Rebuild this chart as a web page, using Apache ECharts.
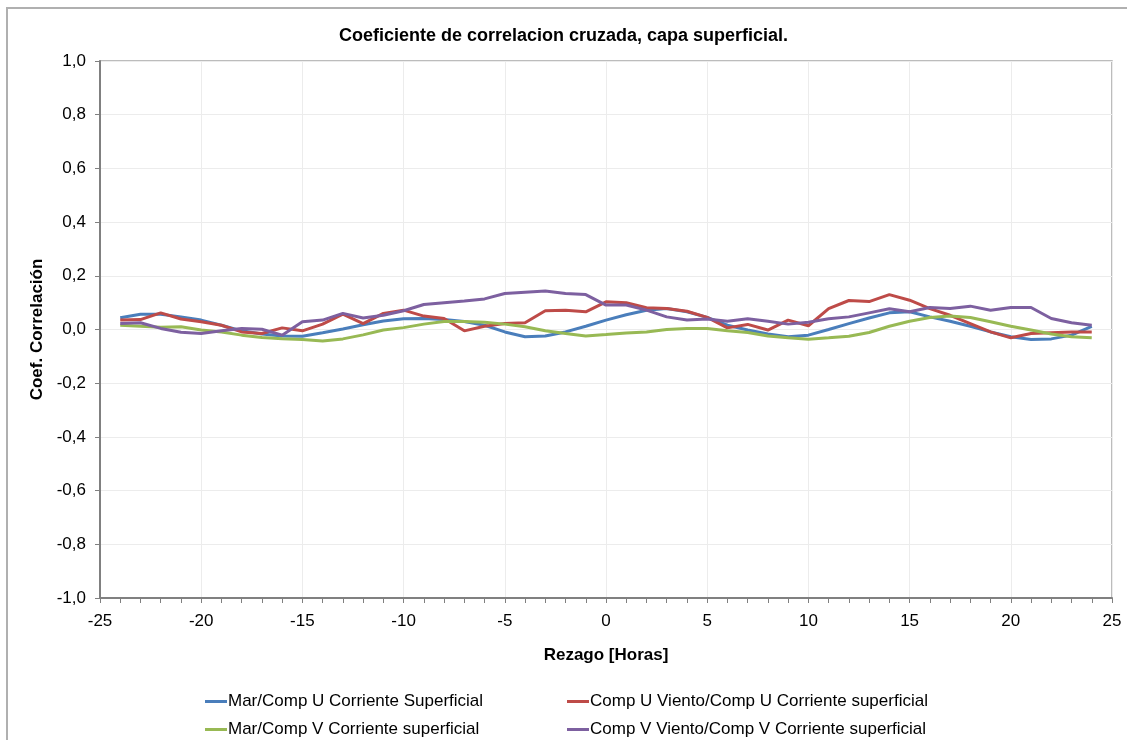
<!DOCTYPE html>
<html>
<head>
<meta charset="utf-8">
<script src="https://cdn.jsdelivr.net/npm/echarts@6/dist/echarts.min.js"></script>
<style>html,body{margin:0;padding:0;background:#fff;}#c{width:1127px;height:740px;}</style>
</head>
<body>
<div id="c"></div>
<script>
const lags = [-24,-23,-22,-21,-20,-19,-18,-17,-16,-15,-14,-13,-12,-11,-10,-9,-8,-7,-6,-5,-4,-3,-2,-1,0,1,2,3,4,5,6,7,8,9,10,11,12,13,14,15,16,17,18,19,20,21,22,23,24];
const marU = [0.044,0.057,0.057,0.047,0.035,0.016,-0.005,-0.017,-0.024,-0.025,-0.012,0.002,0.018,0.032,0.040,0.041,0.037,0.030,0.016,-0.009,-0.027,-0.024,-0.009,0.012,0.035,0.055,0.072,0.078,0.066,0.045,0.016,-0.002,-0.017,-0.027,-0.021,0.000,0.022,0.043,0.062,0.066,0.047,0.031,0.012,-0.009,-0.027,-0.037,-0.035,-0.021,0.012];
const vientoU = [0.035,0.037,0.062,0.039,0.029,0.016,-0.009,-0.015,0.006,-0.005,0.020,0.057,0.022,0.060,0.072,0.050,0.041,-0.005,0.012,0.022,0.025,0.070,0.072,0.066,0.103,0.100,0.081,0.078,0.068,0.045,0.006,0.019,-0.002,0.035,0.014,0.078,0.108,0.104,0.130,0.109,0.078,0.053,0.022,-0.009,-0.031,-0.015,-0.012,-0.009,-0.009];
const marV = [0.016,0.012,0.008,0.010,-0.002,-0.009,-0.021,-0.030,-0.034,-0.037,-0.043,-0.035,-0.020,-0.002,0.007,0.020,0.030,0.030,0.027,0.020,0.010,-0.005,-0.015,-0.024,-0.019,-0.013,-0.009,0.000,0.004,0.004,-0.005,-0.011,-0.024,-0.031,-0.036,-0.031,-0.025,-0.011,0.012,0.031,0.045,0.050,0.045,0.029,0.012,-0.002,-0.017,-0.027,-0.031];
const vientoV = [0.022,0.025,0.004,-0.010,-0.015,-0.005,0.004,0.001,-0.021,0.029,0.035,0.060,0.043,0.053,0.070,0.093,0.100,0.106,0.114,0.134,0.139,0.143,0.134,0.130,0.091,0.091,0.072,0.047,0.035,0.039,0.031,0.040,0.031,0.020,0.027,0.040,0.047,0.062,0.077,0.066,0.082,0.078,0.087,0.072,0.082,0.082,0.041,0.025,0.016];
const seriesNames = ['Mar/Comp U Corriente Superficial','Comp U Viento/Comp U Corriente superficial','Mar/Comp V Corriente superficial','Comp V Viento/Comp V Corriente superficial'];
const seriesColors = ['#4a7ebb','#be4b48','#98b954','#7d60a0'];
const seriesData = [marU, vientoU, marV, vientoV];

const FONT = '"Liberation Sans", Arial, sans-serif';
const chart = echarts.init(document.getElementById('c'), null, {renderer:'canvas'});
const legendPos = [[200,688],[562,688],[200,716],[562,716]];
const option = {
  animation:false,
  backgroundColor:'#ffffff',
  textStyle:{fontFamily:FONT},
  title:{text:'Coeficiente de correlacion cruzada, capa superficial.', left:'center', top:22,
    textStyle:{fontFamily:FONT, fontSize:18, fontWeight:'bold', color:'#000'}},
  graphic:[{type:'rect', shape:{x:7,y:8,width:1130,height:750}, style:{fill:'none', stroke:'#b0b0b0', lineWidth:2}, silent:true}],
  legend: seriesNames.map((n,i)=>({
    data:[n], left:legendPos[i][0], top:legendPos[i][1], itemWidth:22, itemHeight:3, itemGap:0,
    icon:'rect', selectedMode:false,
    textStyle:{fontFamily:FONT, fontSize:17, color:'#000', padding:[0,0,0,-4]}
  })),
  grid:{left:100, top:61, right:15, bottom:142, show:true, borderColor:'#a6a6a6', borderWidth:1.5},
  xAxis:{type:'value', min:-25, max:25, interval:5,
    name:'Rezago [Horas]', nameLocation:'middle', nameGap:49,
    nameTextStyle:{fontFamily:FONT, fontSize:17, fontWeight:'bold', color:'#000'},
    axisLine:{onZero:false, lineStyle:{color:'#808080', width:2}},
    axisTick:{show:true, length:5, lineStyle:{color:'#808080'}},
    minorTick:{show:true, splitNumber:5, length:5, lineStyle:{color:'#808080'}},
    axisLabel:{fontFamily:FONT, fontSize:17, color:'#000', margin:15},
    splitLine:{show:true, lineStyle:{color:'#ececec', width:1}}},
  yAxis:{type:'value', min:-1, max:1, interval:0.2,
    name:'Coef. Correlación', nameLocation:'middle', nameGap:54,
    nameTextStyle:{fontFamily:FONT, fontSize:17, fontWeight:'bold', color:'#000'},
    axisLine:{show:true, onZero:false, lineStyle:{color:'#808080', width:2}},
    axisTick:{show:true, length:5, lineStyle:{color:'#808080'}},
    axisLabel:{fontFamily:FONT, fontSize:17, color:'#000', margin:14,
      formatter:v=>v.toFixed(1).replace('.',',').replace('-0,0','0,0')},
    splitLine:{show:true, lineStyle:{color:'#ececec', width:1}}},
  series: seriesNames.map((n,i)=>({
    name:n, type:'line', showSymbol:false, symbol:'none',
    data: lags.map((x,j)=>[x, seriesData[i][j]]),
    itemStyle:{color:seriesColors[i]},
    lineStyle:{color:seriesColors[i], width:3}
  }))
};
chart.setOption(option);
</script>
</body>
</html>
